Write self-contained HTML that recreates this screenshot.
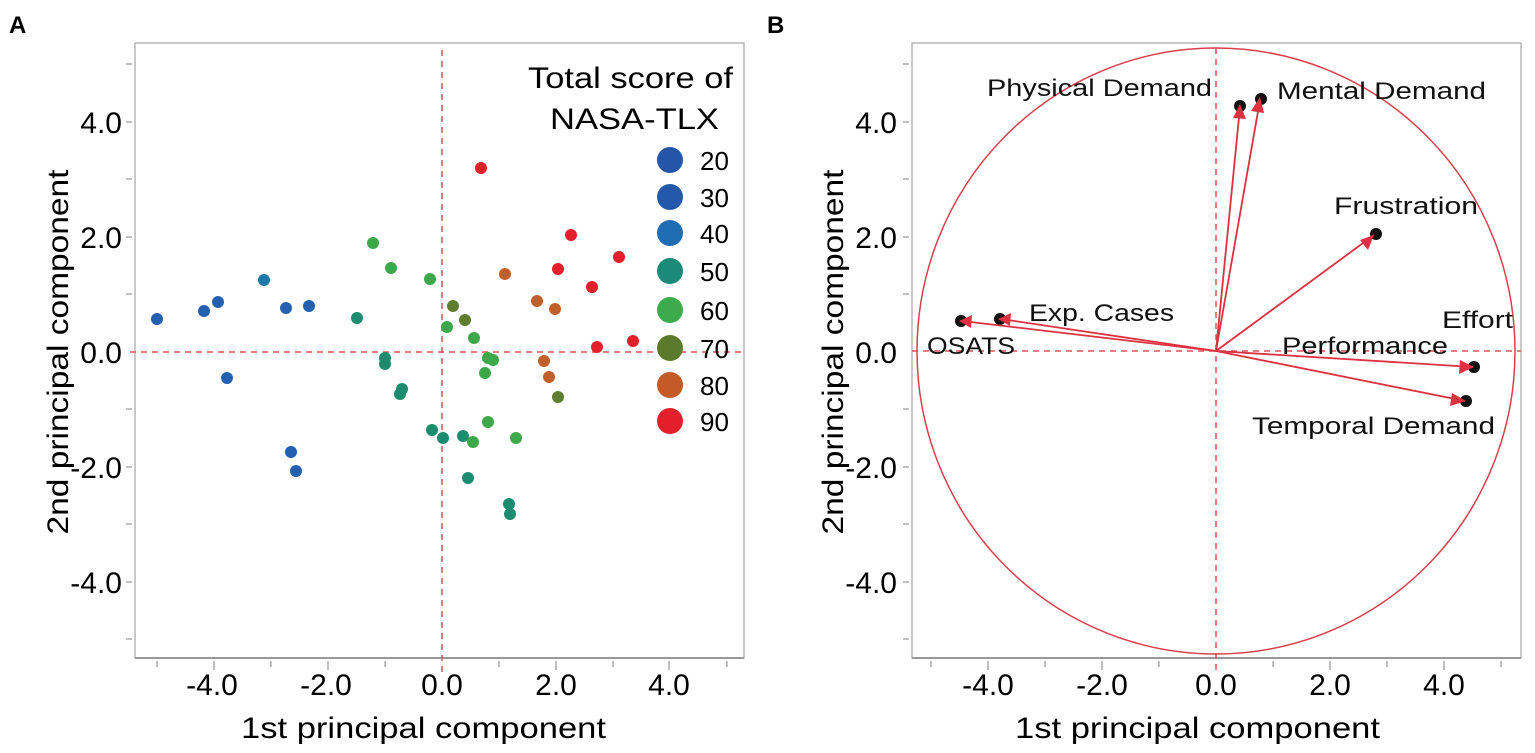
<!DOCTYPE html>
<html><head><meta charset="utf-8"><style>
html,body{margin:0;padding:0;background:#fff}
svg{display:block;font-family:"Liberation Sans",sans-serif}
</style></head><body>
<svg width="1535" height="753" viewBox="0 0 1535 753" xmlns="http://www.w3.org/2000/svg">
<!-- Panel A -->
<text x="9" y="33" font-size="24" font-weight="bold">A</text>
<rect x="135" y="43" width="609" height="615" fill="none" stroke="#b5b5b5" stroke-width="1.5"/>
<line x1="135" y1="658" x2="744" y2="658" stroke="#999" stroke-width="2"/>
<g stroke="#aaa" stroke-width="1.5">
<line x1="157" y1="661" x2="157" y2="667"/><line x1="214" y1="661" x2="214" y2="670"/><line x1="271" y1="661" x2="271" y2="667"/><line x1="328" y1="661" x2="328" y2="670"/><line x1="385" y1="661" x2="385" y2="667"/><line x1="499" y1="661" x2="499" y2="667"/><line x1="556" y1="661" x2="556" y2="670"/><line x1="613" y1="661" x2="613" y2="667"/><line x1="669" y1="661" x2="669" y2="670"/><line x1="727" y1="661" x2="727" y2="667"/>
<line x1="126" y1="64" x2="132" y2="64"/><line x1="126" y1="122" x2="132" y2="122"/><line x1="126" y1="179" x2="132" y2="179"/><line x1="126" y1="237" x2="132" y2="237"/><line x1="126" y1="294" x2="132" y2="294"/><line x1="126" y1="409" x2="132" y2="409"/><line x1="126" y1="467" x2="132" y2="467"/><line x1="126" y1="524" x2="132" y2="524"/><line x1="126" y1="582" x2="132" y2="582"/><line x1="126" y1="639" x2="132" y2="639"/>
</g>
<line x1="442" y1="50" x2="442" y2="672" stroke="#e0505a" stroke-width="1.5" stroke-dasharray="6,5"/>
<line x1="130" y1="352" x2="744" y2="352" stroke="#e0505a" stroke-width="1.5" stroke-dasharray="6,5"/>
<g font-size="30" text-anchor="end">
<text x="122" y="133">4.0</text><text x="122" y="248">2.0</text><text x="122" y="363">0.0</text><text x="122" y="478">-2.0</text><text x="122" y="593">-4.0</text>
</g>
<g font-size="30" text-anchor="middle">
<text x="212" y="695">-4.0</text><text x="326" y="695">-2.0</text><text x="442" y="695">0.0</text><text x="556" y="695">2.0</text><text x="669" y="695">4.0</text>
</g>
<text x="241" y="738" font-size="30" textLength="365" lengthAdjust="spacingAndGlyphs">1st principal component</text>
<text transform="translate(68,352) rotate(-90)" font-size="30" text-anchor="middle" textLength="365" lengthAdjust="spacingAndGlyphs">2nd principal component</text>
<!-- legend -->
<text x="733" y="88" font-size="30" text-anchor="end" textLength="205" lengthAdjust="spacingAndGlyphs">Total score of</text>
<text x="719" y="129" font-size="30" text-anchor="end" textLength="169" lengthAdjust="spacingAndGlyphs">NASA-TLX</text>
<g>
<ellipse cx="670" cy="160" rx="13" ry="13" fill="#2456a8"/>
<ellipse cx="670" cy="197" rx="13" ry="13" fill="#2358aa"/>
<ellipse cx="670" cy="233" rx="13" ry="13" fill="#1f6db3"/>
<ellipse cx="670" cy="271" rx="13" ry="13" fill="#1b8a78"/>
<ellipse cx="670" cy="310" rx="13" ry="13" fill="#3dab4c"/>
<ellipse cx="670" cy="348" rx="13" ry="13" fill="#5b7a2c"/>
<ellipse cx="670" cy="385" rx="13" ry="13" fill="#c45a26"/>
<ellipse cx="670" cy="421" rx="13" ry="13" fill="#e21f2a"/>
</g>
<g font-size="26">
<text x="700" y="170">20</text><text x="700" y="207">30</text><text x="700" y="243">40</text><text x="700" y="281">50</text><text x="700" y="320">60</text><text x="700" y="358">70</text><text x="700" y="395">80</text><text x="700" y="431">90</text>
</g>
<!-- data -->
<g>
<g fill="#e21f2a"><circle cx="481" cy="168" r="6"/><circle cx="571" cy="235" r="6"/><circle cx="558" cy="269" r="6"/><circle cx="619" cy="257" r="6"/><circle cx="592" cy="287" r="6"/><circle cx="597" cy="347" r="6"/><circle cx="633" cy="341" r="6"/></g>
<g fill="#c0602a"><circle cx="505" cy="274" r="6"/><circle cx="537" cy="301" r="6"/><circle cx="555" cy="309" r="6"/><circle cx="544" cy="361" r="6"/><circle cx="549" cy="377" r="6"/></g>
<g fill="#5e7d2e"><circle cx="465" cy="320" r="6"/><circle cx="558" cy="397" r="6"/><circle cx="453" cy="306" r="6"/></g>
<g fill="#3ca84a"><circle cx="373" cy="243" r="6"/><circle cx="391" cy="268" r="6"/><circle cx="430" cy="279" r="6"/><circle cx="447" cy="327" r="6"/><circle cx="474" cy="338" r="6"/><circle cx="488" cy="358" r="6"/><circle cx="493" cy="360" r="6"/><circle cx="485" cy="373" r="6"/><circle cx="488" cy="422" r="6"/><circle cx="516" cy="438" r="6"/><circle cx="473" cy="442" r="6"/></g>
<g fill="#1b8c6e"><circle cx="357" cy="318" r="6"/><circle cx="385" cy="358" r="6"/><circle cx="385" cy="364" r="6"/><circle cx="402" cy="389" r="6"/><circle cx="400" cy="394" r="6"/><circle cx="432" cy="430" r="6"/><circle cx="443" cy="438" r="6"/><circle cx="463" cy="436" r="6"/><circle cx="468" cy="478" r="6"/><circle cx="509" cy="504" r="6"/><circle cx="510" cy="514" r="6"/></g>
<g fill="#2460b0"><circle cx="157" cy="319" r="6"/><circle cx="204" cy="311" r="6"/><circle cx="218" cy="302" r="6"/><circle cx="286" cy="308" r="6"/><circle cx="309" cy="306" r="6"/><circle cx="227" cy="378" r="6"/><circle cx="291" cy="452" r="6"/><circle cx="296" cy="471" r="6"/></g>
<circle cx="264" cy="280" r="6" fill="#1a79a8"/>
</g>

<!-- Panel B -->
<text x="767" y="33" font-size="24" font-weight="bold">B</text>
<rect x="912" y="43" width="609" height="615" fill="none" stroke="#b5b5b5" stroke-width="1.5"/>
<line x1="912" y1="658" x2="1521" y2="658" stroke="#999" stroke-width="2"/>
<g stroke="#aaa" stroke-width="1.5">
<line x1="931" y1="661" x2="931" y2="667"/><line x1="988" y1="661" x2="988" y2="670"/><line x1="1045" y1="661" x2="1045" y2="667"/><line x1="1102" y1="661" x2="1102" y2="670"/><line x1="1159" y1="661" x2="1159" y2="667"/><line x1="1273" y1="661" x2="1273" y2="667"/><line x1="1330" y1="661" x2="1330" y2="670"/><line x1="1387" y1="661" x2="1387" y2="667"/><line x1="1444" y1="661" x2="1444" y2="670"/><line x1="1501" y1="661" x2="1501" y2="667"/>
<line x1="903" y1="64" x2="909" y2="64"/><line x1="903" y1="122" x2="909" y2="122"/><line x1="903" y1="179" x2="909" y2="179"/><line x1="903" y1="237" x2="909" y2="237"/><line x1="903" y1="294" x2="909" y2="294"/><line x1="903" y1="409" x2="909" y2="409"/><line x1="903" y1="467" x2="909" y2="467"/><line x1="903" y1="524" x2="909" y2="524"/><line x1="903" y1="582" x2="909" y2="582"/><line x1="903" y1="639" x2="909" y2="639"/>
</g>
<line x1="1216" y1="48" x2="1216" y2="672" stroke="#e0505a" stroke-width="1.5" stroke-dasharray="6,5"/>
<line x1="912" y1="351" x2="1521" y2="351" stroke="#e0505a" stroke-width="1.5" stroke-dasharray="6,5"/>
<ellipse cx="1216" cy="351" rx="299" ry="303" fill="none" stroke="#d8404c" stroke-width="1.5"/>
<g font-size="30" text-anchor="end">
<text x="897" y="133">4.0</text><text x="897" y="248">2.0</text><text x="897" y="363">0.0</text><text x="897" y="478">-2.0</text><text x="897" y="593">-4.0</text>
</g>
<g font-size="30" text-anchor="middle">
<text x="988" y="695">-4.0</text><text x="1102" y="695">-2.0</text><text x="1216" y="695">0.0</text><text x="1330" y="695">2.0</text><text x="1444" y="695">4.0</text>
</g>
<text x="1015" y="738" font-size="30" textLength="365" lengthAdjust="spacingAndGlyphs">1st principal component</text>
<text transform="translate(843,352) rotate(-90)" font-size="30" text-anchor="middle" textLength="365" lengthAdjust="spacingAndGlyphs">2nd principal component</text>
<!-- arrows -->
<g fill="#111">
<circle cx="1240" cy="106" r="6"/><circle cx="1261" cy="99" r="6"/><circle cx="1376" cy="234" r="6"/><circle cx="961" cy="321" r="6"/><circle cx="1000" cy="319" r="6"/><circle cx="1474" cy="367" r="6"/><circle cx="1466" cy="401" r="6"/>
</g>
<g stroke="#dd3040" stroke-width="1.8" fill="none">
<line x1="1216" y1="351" x2="1240" y2="107"/>
<line x1="1216" y1="351" x2="1260" y2="100"/>
<line x1="1216" y1="351" x2="1374" y2="235"/>
<line x1="1216" y1="351" x2="962" y2="321"/>
<line x1="1216" y1="351" x2="1001" y2="319"/>
<line x1="1216" y1="351" x2="1473" y2="367"/>
<line x1="1216" y1="351" x2="1465" y2="401"/>
</g>
<g fill="#dd3040">
<polygon points="1240,104 1233,118 1246,119"/>
<polygon points="1260,97 1251,111 1264,113"/>
<polygon points="1374,235 1360,240 1368,250"/>
<polygon points="959,321 972,315 971,328"/>
<polygon points="998,319 1011,313 1010,326"/>
<polygon points="1474,367 1460,360 1459,374"/>
<polygon points="1466,401 1452,393 1450,406"/>
</g>
<g font-size="24" fill="#111">
<text x="987" y="96" textLength="225" lengthAdjust="spacingAndGlyphs">Physical Demand</text>
<text x="1277" y="99" textLength="209" lengthAdjust="spacingAndGlyphs">Mental Demand</text>
<text x="1334" y="214" textLength="144" lengthAdjust="spacingAndGlyphs">Frustration</text>
<text x="1029" y="321" textLength="145" lengthAdjust="spacingAndGlyphs">Exp. Cases</text>
<text x="927" y="354" textLength="88" lengthAdjust="spacingAndGlyphs">OSATS</text>
<text x="1282" y="354" textLength="166" lengthAdjust="spacingAndGlyphs">Performance</text>
<text x="1442" y="328" textLength="71" lengthAdjust="spacingAndGlyphs">Effort</text>
<text x="1252" y="434" textLength="243" lengthAdjust="spacingAndGlyphs">Temporal Demand</text>
</g>
</svg>
</body></html>
